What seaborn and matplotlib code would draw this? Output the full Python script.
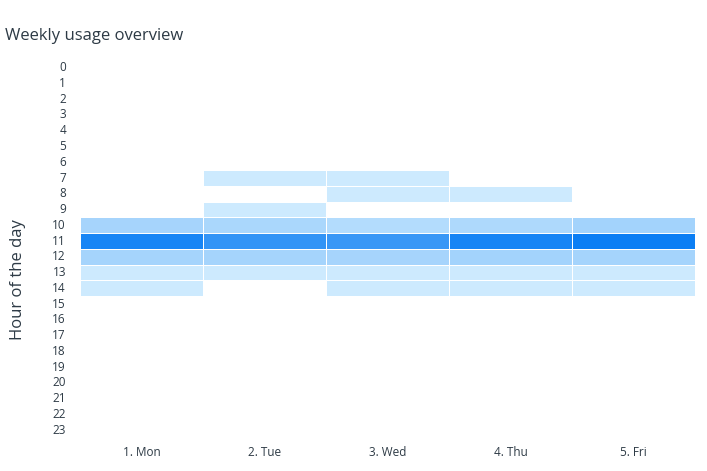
import numpy as np
import pandas as pd
import seaborn as sns
import matplotlib.pyplot as plt
from matplotlib.colors import LinearSegmentedColormap

days = ["1. Mon", "2. Tue", "3. Wed", "4. Thu", "5. Fri"]
hours = list(range(24))

# usage per hour, one list per day (NaN = no usage)
nan = np.nan
mon = [nan]*10 + [3.2, 11.3, 3.3, 1.0, 1.0] + [nan]*9
tue = [nan]*7 + [1.0, nan, 1.0, 3.0, 9.8, 3.3, 1.0] + [nan]*10
wed = [nan]*7 + [1.0, 1.0, nan, 2.5, 9.4, 3.2, 1.0, 1.0] + [nan]*9
thu = [nan]*8 + [1.0, nan, 2.8, 11.3, 3.4, 1.0, 1.0] + [nan]*9
fri = [nan]*10 + [3.4, 12.0, 3.3, 1.0, 1.0] + [nan]*9

df = pd.DataFrame({"1. Mon": mon, "2. Tue": tue, "3. Wed": wed,
                   "4. Thu": thu, "5. Fri": fri}, index=hours)

cmap = LinearSegmentedColormap.from_list("qs_blue", ["#cdeafe", "#0b7ef4"])
txt = "#2d3a45"

plt.rcParams['font.family'] = ['Open Sans', 'DejaVu Sans']
fig = plt.figure(figsize=(7.07, 4.71), dpi=100)
ax = fig.add_axes([0.113, 0.070, 0.870, 0.803])

sns.heatmap(df, ax=ax, cmap=cmap, vmin=1, vmax=12, cbar=False,
            linewidths=0.6, linecolor="white")

ax.set_yticks(np.arange(24) + 0.5)
ax.set_yticklabels([str(h) for h in hours], rotation=0, fontsize=8.5, color=txt)
ax.set_xticklabels(days, rotation=0, fontsize=8.5, color=txt)
ax.tick_params(length=0, pad=6)
ax.tick_params(axis="y", pad=10)
ax.set_xlabel("")
ax.set_ylabel("Hour of the day", fontsize=12, color=txt)
ax.yaxis.set_label_coords(-0.088, 0.42)
for s in ax.spines.values():
    s.set_visible(False)

fig.text(0.007, 0.924, "Weekly usage overview", fontsize=12, color=txt, va="center")

fig.savefig("out.png", dpi=100)
